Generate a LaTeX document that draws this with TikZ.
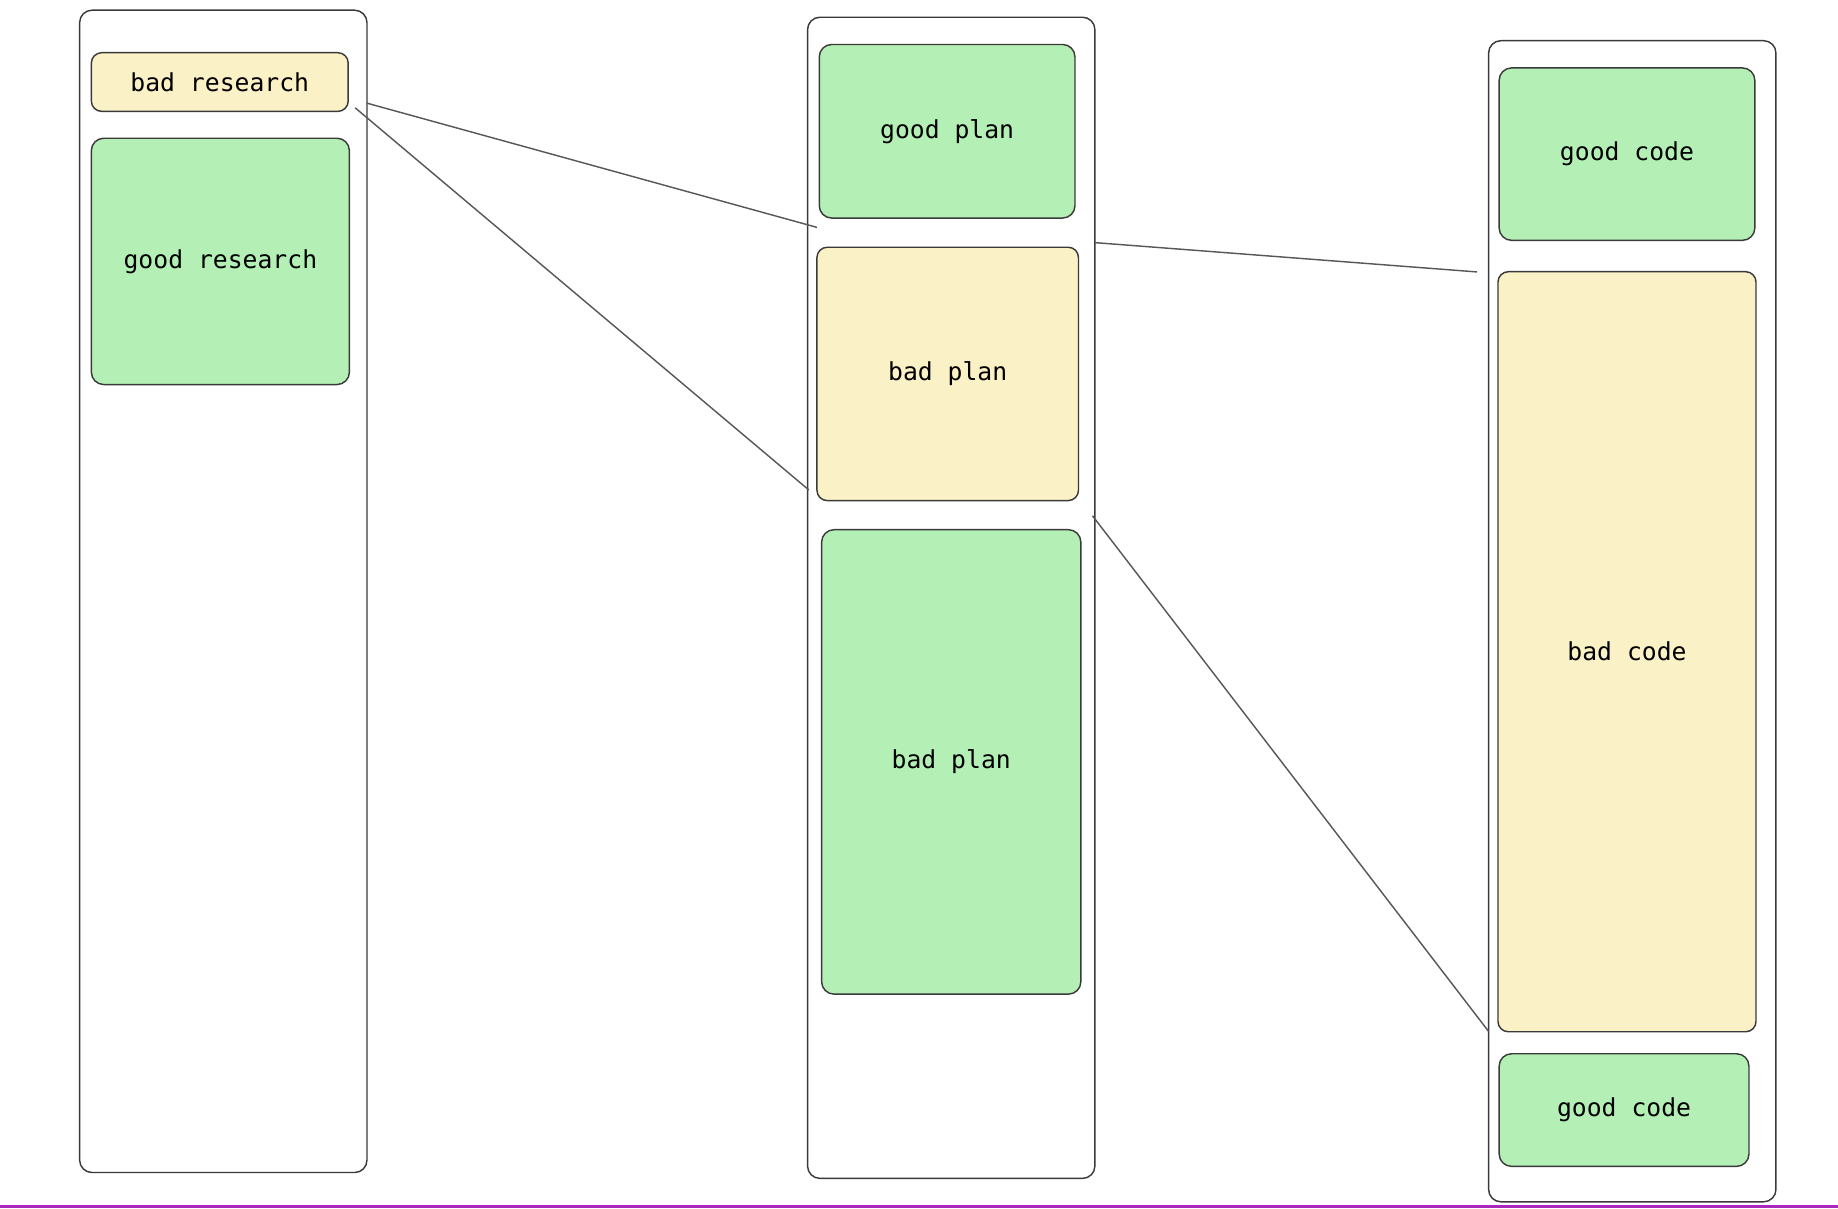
\documentclass[tikz,border=0pt]{standalone}
\usepackage{fontspec}
\setmainfont{DejaVu Sans Mono}
\definecolor{goodfill}{HTML}{B4F0B6}
\definecolor{badfill}{HTML}{FBF1C7}
\definecolor{edge}{HTML}{3A3A3A}
\tikzset{
  column/.style={draw=edge, line width=0.35pt, rounded corners=3pt, fill=white, inner sep=0pt},
  good/.style={draw=edge, line width=0.35pt, rounded corners=3pt, fill=goodfill, inner sep=0pt, font=\fontsize{6}{7}\selectfont},
  bad/.style={draw=edge, line width=0.35pt, rounded corners=2.5pt, fill=badfill, inner sep=0pt, font=\fontsize{6}{7}\selectfont},
  link/.style={draw=edge!85, line width=0.35pt}
}
\begin{document}
\begin{tikzpicture}[x=0.01cm, y=-0.01cm]
  \useasboundingbox (0,0) rectangle (1568,1031);
  % bottom rule
  \draw[line width=0.7pt, color={rgb,255:red,170;green,40;blue,190}] (0,1029) -- (1568,1029);

  % columns
  \node[column, minimum width=2.45cm, minimum height=9.91cm] (research) at (190.5,504.5) {};
  \node[column, minimum width=2.45cm, minimum height=9.90cm] (plan) at (811.5,510) {};
  \node[column, minimum width=2.45cm, minimum height=9.90cm] (code) at (1392.5,530) {};

  % research
  \node[bad, minimum width=2.19cm, minimum height=0.50cm] (badres) at (187.5,70) {bad research};
  \node[good, minimum width=2.20cm, minimum height=2.10cm] (goodres) at (188,223) {good research};

  % plan
  \node[good, minimum width=2.18cm, minimum height=1.48cm] (goodplan) at (808,112) {good plan};
  \node[bad, minimum width=2.23cm, minimum height=2.16cm] (badplan) at (808.5,319) {bad plan};
  \node[good, minimum width=2.21cm, minimum height=3.96cm] (badplanb) at (811.5,650) {bad plan};

  % code
  \node[good, minimum width=2.18cm, minimum height=1.47cm] (goodcode) at (1388,131.5) {good code};
  \node[bad, minimum width=2.20cm, minimum height=6.48cm] (badcode) at (1388,556) {bad code};
  \node[good, minimum width=2.13cm, minimum height=0.96cm] (goodcodeb) at (1385.5,947) {good code};

  % links
  \coordinate (r1) at (313,88);
  \coordinate (r2) at (303,92);
  \coordinate (p1) at (697,194);
  \coordinate (p2) at (690,418);
  \coordinate (p3) at (934,207);
  \coordinate (p4) at (932,440);
  \coordinate (c1) at (1260,232);
  \coordinate (c2) at (1270,880);
  \draw[link] (r1) -- (p1);
  \draw[link] (r2) -- (p2);
  \draw[link] (p3) -- (c1);
  \draw[link] (p4) -- (c2);
\end{tikzpicture}
\end{document}
